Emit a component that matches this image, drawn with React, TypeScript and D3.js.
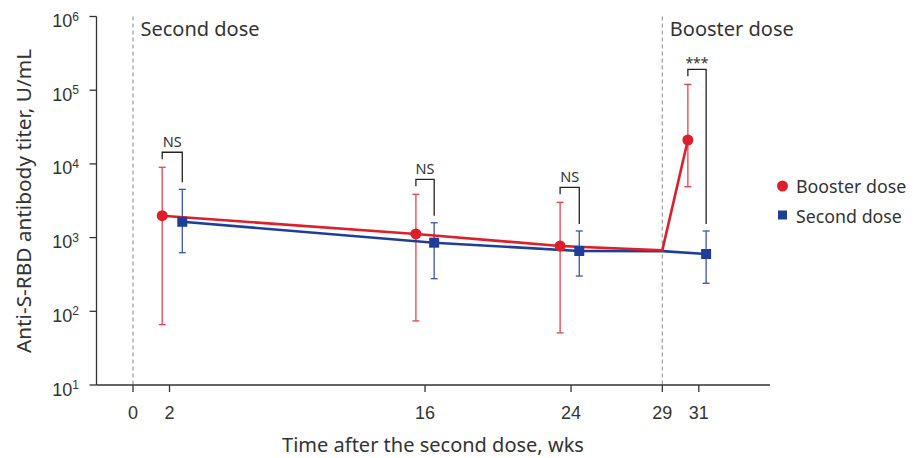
import React from 'react';
import * as d3 from 'd3';

// x tick values (weeks after the second dose)
const weekTicks = [0, 2, 16, 24, 29, 31];
// decades shown on the y axis
const decadeTicks = [1, 2, 3, 4, 5, 6];

// Booster dose group: plotted week, GMT, lower and upper bound
const boosterWeeks = [1.6, 15.5, 23.4, 30.4];
const boosterGmt = [1980, 1120, 769, 21100];
const boosterLow = [66, 74, 51, 4910];
const boosterHigh = [9000, 3870, 3010, 120000];

// Second dose group
const secondWeeks = [2.7, 16.5, 24.45, 31.4];
const secondGmt = [1640, 853, 658, 599];
const secondLow = [624, 277, 301, 240];
const secondHigh = [4520, 1590, 1230, 1230];

// both lines meet at the booster time point
const junctionWeek = 29;
const boosterAtJunction = 670;
const secondAtJunction = 655;

const sigLabels = ['NS', 'NS', 'NS', '***'];

const doseWeeks = [0, 29];
const doseLabels = ['Second dose', 'Booster dose'];

const legendLabels = ['Booster dose', 'Second dose'];

const RED = '#dc1f2b';
const RED_BAR = '#e4434d';
const BLUE = '#1f3e98';
const BLUE_BAR = '#3a55a8';
const INK = '#333333';
const FONT = '"Noto Sans", sans-serif';
const NUM_FONT = '"Liberation Sans", Arial, sans-serif';

const App = () => {
  const width = 914;
  const height = 458;

  const x = d3.scaleLinear().domain([-2, 34.9]).range([96.5, 770]);
  const y = d3.scaleLog().domain([10, 1e6]).range([385, 16.5]);

  const boosterLine = boosterWeeks
    .slice(0, 3)
    .map((w, i) => [w, boosterGmt[i]] as [number, number])
    .concat([[junctionWeek, boosterAtJunction], [boosterWeeks[3], boosterGmt[3]]]);
  const secondLine = secondWeeks
    .slice(0, 3)
    .map((w, i) => [w, secondGmt[i]] as [number, number])
    .concat([[junctionWeek, secondAtJunction], [secondWeeks[3], secondGmt[3]]]);

  const line = d3
    .line<[number, number]>()
    .x(d => x(d[0]))
    .y(d => y(d[1]));

  const cap = 3.5;

  const errorBars = (weeks: number[], low: number[], high: number[], color: string) =>
    weeks.map((w, i) => (
      <g key={i} stroke={color} strokeWidth={1.3}>
        <line x1={x(w)} x2={x(w)} y1={y(low[i])} y2={y(high[i])} />
        <line x1={x(w) - cap} x2={x(w) + cap} y1={y(low[i])} y2={y(low[i])} />
        <line x1={x(w) - cap} x2={x(w) + cap} y1={y(high[i])} y2={y(high[i])} />
      </g>
    ));

  return (
    <svg
      width={width}
      height={height}
      style={{ position: 'absolute', left: 0, top: 0, background: '#fff' }}
    >
      {/* dose markers */}
      {doseWeeks.map((w, i) => (
        <g key={i}>
          <line
            x1={x(w)}
            x2={x(w)}
            y1={y(1e6)}
            y2={y(10)}
            stroke="#9a9a9a"
            strokeWidth={1.2}
            strokeDasharray="4,3"
          />
          <text x={x(w) + 7.5} y={36} fontFamily={FONT} fontSize={20} fill={INK}>
            {doseLabels[i]}
          </text>
        </g>
      ))}

      {/* y axis */}
      <line x1={96.5} x2={96.5} y1={y(1e6)} y2={y(10)} stroke={INK} strokeWidth={1.3} />
      {decadeTicks.map(p => (
        <g key={p}>
          <line x1={89.5} x2={96.5} y1={y(10 ** p)} y2={y(10 ** p)} stroke={INK} strokeWidth={1.3} />
          <text
            x={79}
            y={y(10 ** p) + 10.5}
            textAnchor="end"
            fontFamily={NUM_FONT}
            fontSize={18}
            fill={INK}
          >
            10
            <tspan dy={-6.5} fontSize={12}>
              {p}
            </tspan>
          </text>
        </g>
      ))}

      {/* x axis */}
      <line x1={96.5} x2={770} y1={385} y2={385} stroke={INK} strokeWidth={1.3} />
      {weekTicks.map(t => (
        <g key={t}>
          <line x1={x(t)} x2={x(t)} y1={385} y2={392} stroke={INK} strokeWidth={1.3} />
          <text
            x={x(t)}
            y={419}
            textAnchor="middle"
            fontFamily={NUM_FONT}
            fontSize={18}
            fill={INK}
          >
            {t}
          </text>
        </g>
      ))}

      <text x={433} y={452} textAnchor="middle" fontFamily={FONT} fontSize={20} fill={INK}>
        Time after the second dose, wks
      </text>
      <text
        transform={`translate(31,201) rotate(-90)`}
        textAnchor="middle"
        fontFamily={FONT}
        fontSize={20.8}
        fill={INK}
      >
        Anti-S-RBD antibody titer, U/mL
      </text>

      {/* error bars */}
      {errorBars(boosterWeeks, boosterLow, boosterHigh, RED_BAR)}
      {errorBars(secondWeeks, secondLow, secondHigh, BLUE_BAR)}

      {/* lines */}
      <path d={line(secondLine) || ''} fill="none" stroke={BLUE} strokeWidth={2.6} />
      <path d={line(boosterLine) || ''} fill="none" stroke={RED} strokeWidth={2.6} />

      {/* markers */}
      {secondWeeks.map((w, i) => (
        <rect
          key={i}
          x={x(w) - 5}
          y={y(secondGmt[i]) - 5}
          width={10}
          height={10}
          fill={BLUE}
        />
      ))}
      {boosterWeeks.map((w, i) => (
        <circle key={i} cx={x(w)} cy={y(boosterGmt[i])} r={5.5} fill={RED} />
      ))}

      {/* significance brackets */}
      {sigLabels.map((label, i) => {
        const xl = x(boosterWeeks[i]);
        const xr = x(secondWeeks[i]);
        const yl = y(boosterHigh[i]) - 8;
        const yr = y(secondHigh[i]) - 7;
        const top = Math.min(yl, yr) - 7;
        return (
          <g key={i}>
            <path
              d={`M${xl},${yl}V${top}H${xr}V${yr}`}
              fill="none"
              stroke="#222"
              strokeWidth={1.3}
            />
            <text
              x={(xl + xr) / 2}
              y={label === '***' ? top - 1 : top - 5}
              textAnchor="middle"
              fontFamily={FONT}
              fontSize={label === '***' ? 14 : 14.5}
              fill={INK}
            >
              {label}
            </text>
          </g>
        );
      })}

      {/* legend */}
      <circle cx={782.5} cy={186} r={5.5} fill={RED} />
      <text x={796} y={193} fontFamily={FONT} fontSize={17.8} fill={INK}>
        {legendLabels[0]}
      </text>
      <rect x={778} y={210.5} width={9} height={9} fill={BLUE} />
      <text x={796} y={222.5} fontFamily={FONT} fontSize={17.8} fill={INK}>
        {legendLabels[1]}
      </text>
    </svg>
  );
};

export default App;
